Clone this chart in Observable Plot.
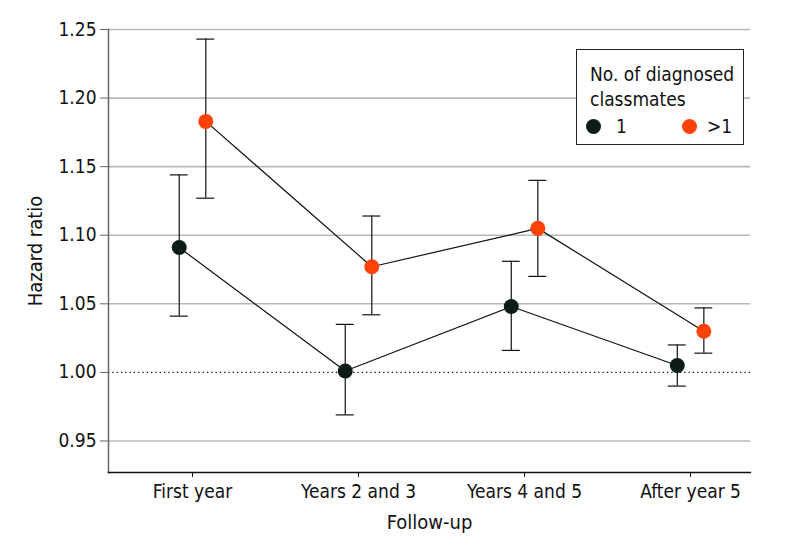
<!DOCTYPE html>
<html><head><meta charset="utf-8">
<script src="https://cdn.jsdelivr.net/npm/d3@7"></script>
<script src="https://cdn.jsdelivr.net/npm/@observablehq/plot@0.6"></script>
<style>
html,body{margin:0;padding:0;background:#fff;}
#wrap{position:relative;width:794px;height:556px;font-family:"DejaVu Sans Condensed","DejaVu Sans",sans-serif;}
#legend{position:absolute;left:576px;top:49px;width:166px;height:94px;border:1.5px solid #222;background:#fff;font-size:19px;color:#111;line-height:25px;}
#legend .t{position:absolute;left:13px;top:12px;}
#legend .row{position:absolute;top:64px;left:9px;width:150px;height:25px;}
.dot{position:absolute;width:15px;height:15px;border-radius:50%;top:5px;}
.lab{position:absolute;top:0;}
</style></head>
<body><div id="wrap"><div id="chart"></div>
<div id="legend"><div class="t">No. of diagnosed<br>classmates</div>
<div class="row"><span class="dot" style="left:0;background:#0c1c19"></span><span class="lab" style="left:30px">1</span>
<span class="dot" style="left:96px;background:#ff4208"></span><span class="lab" style="left:121px">&gt;1</span></div></div>
</div>
<script>
const periods = ["First year", "Years 2 and 3", "Years 4 and 5", "After year 5"];
const groups = ["1", ">1"];
const hr1 = [1.091, 1.001, 1.048, 1.005];
const lo1 = [1.041, 0.969, 1.016, 0.990];
const hi1 = [1.144, 1.035, 1.081, 1.020];
const hr2 = [1.183, 1.077, 1.105, 1.030];
const lo2 = [1.127, 1.042, 1.070, 1.014];
const hi2 = [1.243, 1.114, 1.140, 1.047];
const yTicks = [0.95, 1.00, 1.05, 1.10, 1.15, 1.20, 1.25];
const colors = ["#0c1c19", "#ff4208"];

const off = 0.08, cap = 0.054;
const rows = [];
periods.forEach((p, i) => {
  rows.push({g: groups[0], i, x: i - off, hr: hr1[i], lo: lo1[i], hi: hi1[i]});
  rows.push({g: groups[1], i, x: i + off, hr: hr2[i], lo: lo2[i], hi: hi2[i]});
});
const FONT = '"DejaVu Sans Condensed","DejaVu Sans",sans-serif';
const chart = Plot.plot({
  width: 794, height: 556,
  marginLeft: 108, marginRight: 44, marginTop: 29, marginBottom: 84,
  style: {fontFamily: FONT, fontSize: "19px", color: "#111", background: "#fff"},
  x: {domain: [-0.506, 3.361], label: null},
  y: {domain: [0.927, 1.25], label: null},
  color: {domain: groups, range: colors},
  marks: [
    Plot.ruleY(yTicks.filter(d => d !== 1), {stroke: "#b8b8b8", strokeWidth: 1.6}),
    Plot.ruleY([1], {stroke: "#111", strokeWidth: 1.3, strokeDasharray: "1.3,3"}),
    Plot.frame({anchor: "left", stroke: "#666", strokeWidth: 1.5}),
    Plot.frame({anchor: "bottom", stroke: "#111", strokeWidth: 1.3}),
    Plot.axisX({ticks: [0,1,2,3], tickFormat: i => periods[i], tickSize: 5, tickPadding: 7, stroke: "#111", fontSize: 19, fill: "#111", label: null}),
    Plot.axisY({ticks: yTicks, tickFormat: d3.format(".2f"), tickSize: 8, tickPadding: 4, stroke: "#666", fontSize: 19, fill: "#111", label: null}),
    Plot.line(rows, {x: "x", y: "hr", z: "g", stroke: "#111", strokeWidth: 1.2}),
    Plot.ruleX(rows, {x: "x", y1: "lo", y2: "hi", stroke: "#111", strokeWidth: 1.2}),
    Plot.ruleY(rows, {y: "lo", x1: d => d.x - cap, x2: d => d.x + cap, stroke: "#111", strokeWidth: 1.2}),
    Plot.ruleY(rows, {y: "hi", x1: d => d.x - cap, x2: d => d.x + cap, stroke: "#111", strokeWidth: 1.2}),
    Plot.dot(rows, {x: "x", y: "hr", fill: "g", r: 7.5, stroke: "none"}),
    Plot.text(["Hazard ratio"], {frameAnchor: "left", textAnchor: "middle", dx: -73, rotate: -90, fontSize: 20, fill: "#111"}),
    Plot.text(["Follow-up"], {frameAnchor: "bottom", dy: 56, fontSize: 20, fill: "#111"})
  ]
});
document.getElementById("chart").appendChild(chart);
</script></body></html>
